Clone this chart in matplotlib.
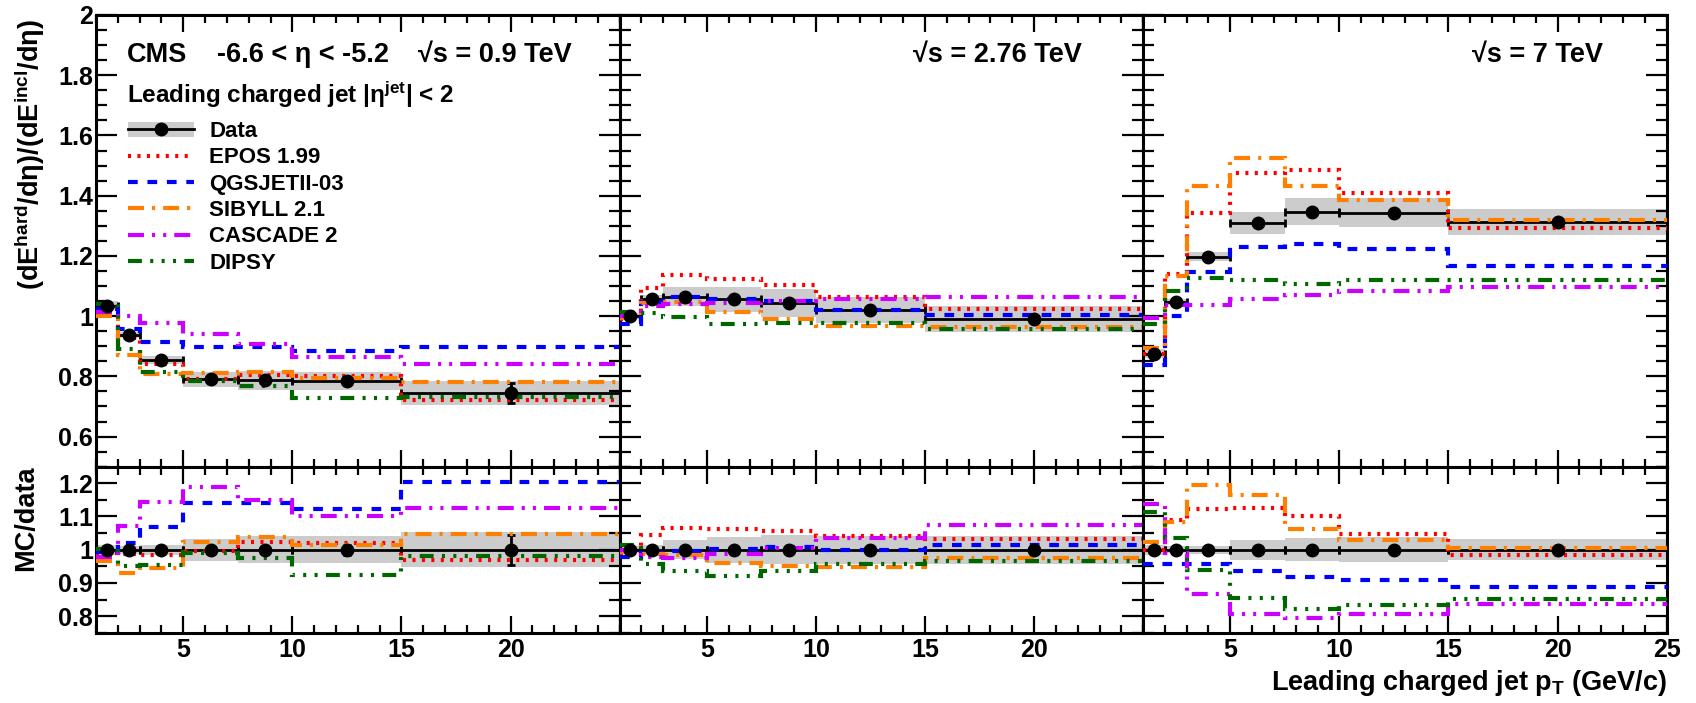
import numpy as np
import matplotlib
matplotlib.use("Agg")
from matplotlib import pyplot as plt
from matplotlib.lines import Line2D
from matplotlib.patches import Patch
from matplotlib.ticker import FixedLocator, MultipleLocator, FuncFormatter

plt.rcParams["font.family"] = ["Liberation Sans", "DejaVu Sans"]
plt.rcParams["font.weight"] = "bold"
plt.rcParams["mathtext.fontset"] = "custom"
plt.rcParams["mathtext.rm"] = "Liberation Sans:bold"
plt.rcParams["mathtext.it"] = "Liberation Sans:bold"
plt.rcParams["mathtext.bf"] = "Liberation Sans:bold"
plt.rcParams["lines.scale_dashes"] = False

# ---- binning (leading charged jet pT, GeV/c) ----
edges = [1, 2, 3, 5, 7.5, 10, 15, 25]
centers = [1.5, 2.5, 4.0, 6.25, 8.75, 12.5, 20.0]

models = ["EPOS 1.99", "QGSJETII-03", "SIBYLL 2.1", "CASCADE 2", "DIPSY"]

# ---- sqrt(s) = 0.9 TeV ----
data_09 = [1.035, 0.937, 0.853, 0.790, 0.787, 0.785, 0.745]
syst_09 = [0.015, 0.010, 0.013, 0.026, 0.031, 0.031, 0.040]
stat_09 = [0.004, 0.004, 0.004, 0.004, 0.005, 0.010, 0.033]
epos_09 = [1.025, 0.928, 0.842, 0.790, 0.803, 0.800, 0.722]
qgsjet_09 = [1.025, 0.956, 0.913, 0.899, 0.898, 0.883, 0.899]
sibyll_09 = [1.000, 0.872, 0.808, 0.810, 0.816, 0.795, 0.780]
cascade_09 = [1.015, 1.000, 0.977, 0.942, 0.906, 0.864, 0.840]
dipsy_09 = [1.040, 0.891, 0.813, 0.783, 0.768, 0.727, 0.730]
rsyst_09 = [0.015, 0.012, 0.015, 0.033, 0.040, 0.040, 0.052]
rstat_09 = [0.004, 0.004, 0.004, 0.005, 0.006, 0.015, 0.045]
r_epos_09 = [0.990, 0.988, 0.985, 0.996, 1.022, 1.020, 0.970]
r_qgsjet_09 = [0.993, 1.020, 1.068, 1.140, 1.140, 1.123, 1.205]
r_sibyll_09 = [0.966, 0.931, 0.946, 1.023, 1.037, 1.013, 1.048]
r_cascade_09 = [0.978, 1.070, 1.143, 1.190, 1.151, 1.100, 1.126]
r_dipsy_09 = [1.003, 0.951, 0.953, 0.991, 0.976, 0.925, 0.980]

# ---- sqrt(s) = 2.76 TeV ----
data_276 = [1.001, 1.057, 1.065, 1.056, 1.043, 1.021, 0.990]
syst_276 = [0.010, 0.012, 0.031, 0.041, 0.046, 0.043, 0.042]
stat_276 = [0.003, 0.003, 0.003, 0.004, 0.004, 0.005, 0.008]
epos_276 = [0.990, 1.093, 1.137, 1.124, 1.102, 1.065, 1.023]
qgsjet_276 = [0.975, 1.048, 1.062, 1.058, 1.050, 1.021, 1.004]
sibyll_276 = [0.995, 1.043, 1.048, 1.015, 0.991, 0.968, 0.965]
cascade_276 = [1.000, 1.034, 1.040, 1.045, 1.050, 1.057, 1.063]
dipsy_276 = [1.015, 1.011, 0.997, 0.975, 0.976, 0.977, 0.957]
rsyst_276 = [0.010, 0.013, 0.029, 0.039, 0.044, 0.042, 0.042]
rstat_276 = [0.003, 0.003, 0.003, 0.004, 0.004, 0.005, 0.008]
r_epos_276 = [0.990, 1.043, 1.066, 1.063, 1.056, 1.041, 1.033]
r_qgsjet_276 = [0.978, 0.990, 0.996, 1.003, 1.007, 1.000, 1.014]
r_sibyll_276 = [0.993, 0.987, 0.984, 0.961, 0.950, 0.947, 0.976]
r_cascade_276 = [0.998, 0.978, 0.976, 0.988, 1.005, 1.034, 1.073]
r_dipsy_276 = [1.013, 0.957, 0.936, 0.921, 0.936, 0.956, 0.967]

# ---- sqrt(s) = 7 TeV ----
data_7 = [0.875, 1.046, 1.198, 1.309, 1.347, 1.344, 1.312]
syst_7 = [0.015, 0.010, 0.015, 0.036, 0.046, 0.048, 0.043]
stat_7 = [0.004, 0.003, 0.003, 0.004, 0.004, 0.005, 0.007]
epos_7 = [0.875, 1.140, 1.344, 1.474, 1.486, 1.408, 1.292]
qgsjet_7 = [0.838, 1.002, 1.145, 1.228, 1.238, 1.222, 1.165]
sibyll_7 = [0.894, 1.132, 1.432, 1.524, 1.432, 1.386, 1.320]
cascade_7 = [0.993, 1.037, 1.037, 1.056, 1.071, 1.085, 1.096]
dipsy_7 = [0.974, 1.082, 1.125, 1.120, 1.107, 1.120, 1.120]
rsyst_7 = [0.015, 0.010, 0.012, 0.030, 0.035, 0.037, 0.032]
rstat_7 = [0.003, 0.003, 0.003, 0.003, 0.003, 0.004, 0.005]
r_epos_7 = [1.000, 1.090, 1.122, 1.126, 1.103, 1.047, 0.983]
r_qgsjet_7 = [0.957, 0.957, 0.956, 0.937, 0.918, 0.908, 0.887]
r_sibyll_7 = [1.023, 1.082, 1.196, 1.164, 1.063, 1.030, 1.006]
r_cascade_7 = [1.137, 0.991, 0.867, 0.806, 0.794, 0.807, 0.835]
r_dipsy_7 = [1.113, 1.036, 0.939, 0.856, 0.822, 0.833, 0.853]

panels = [
    dict(data=data_09, syst=syst_09, stat=stat_09,
         mc=[epos_09, qgsjet_09, sibyll_09, cascade_09, dipsy_09],
         rsyst=rsyst_09, rstat=rstat_09,
         rmc=[r_epos_09, r_qgsjet_09, r_sibyll_09, r_cascade_09, r_dipsy_09]),
    dict(data=data_276, syst=syst_276, stat=stat_276,
         mc=[epos_276, qgsjet_276, sibyll_276, cascade_276, dipsy_276],
         rsyst=rsyst_276, rstat=rstat_276,
         rmc=[r_epos_276, r_qgsjet_276, r_sibyll_276, r_cascade_276, r_dipsy_276]),
    dict(data=data_7, syst=syst_7, stat=stat_7,
         mc=[epos_7, qgsjet_7, sibyll_7, cascade_7, dipsy_7],
         rsyst=rsyst_7, rstat=rstat_7,
         rmc=[r_epos_7, r_qgsjet_7, r_sibyll_7, r_cascade_7, r_dipsy_7]),
]

# ROOT-like colours / line styles (dash lengths in points)
mc_colors = ["#ff0000", "#0000ff", "#ff7f00", "#cc00ff", "#006600"]
mc_dashes = [
    (0, (2.2, 4.6)),
    (0, (7.0, 7.0)),
    (0, (11.5, 5.8, 2.2, 5.8)),
    (0, (11.5, 5.8, 2.2, 5.8, 2.2, 5.8)),
    (0, (10.0, 6.0, 2.2, 6.0, 2.2, 6.0, 2.2, 6.0)),
]
MC_LW = 3.0
BAND = "#cccccc"

W, H = 1696, 703
fig = plt.figure(figsize=(W / 100, H / 100), dpi=100)

x_left = [96, 619.5, 1143]
pw = 523.7
top_y0, top_y1 = 466.7, 15
bot_y0, bot_y1 = 632.7, 466.7

edges_a = np.array(edges)
cent_a = np.array(centers)
xerr = [cent_a - edges_a[:-1], edges_a[1:] - cent_a]


def style_axes(ax, xlabels, ylabels, ymajor, yminor, fmt_last):
    ax.set_xlim(1, 25)
    ax.xaxis.set_major_locator(FixedLocator([5, 10, 15, 20, 25]))
    ax.xaxis.set_minor_locator(MultipleLocator(1))
    ax.yaxis.set_major_locator(FixedLocator(ymajor))
    ax.yaxis.set_minor_locator(MultipleLocator(yminor))
    ax.tick_params(which="both", direction="in", top=True, right=True,
                   width=1.6, labelsize=18)
    ax.tick_params(axis="x", which="major", length=12, pad=4)
    ax.tick_params(axis="x", which="minor", length=6)
    ax.tick_params(axis="y", which="major", length=15, pad=2)
    ax.tick_params(axis="y", which="minor", length=8)
    for s in ax.spines.values():
        s.set_linewidth(2.2)
    if xlabels:
        ax.xaxis.set_major_formatter(FuncFormatter(
            lambda v, p: "" if (v == 25 and not fmt_last) else f"{v:g}"))
    else:
        ax.set_xticklabels([])
    if ylabels:
        ax.yaxis.set_major_formatter(FuncFormatter(lambda v, p: f"{v:g}"))
    else:
        ax.set_yticklabels([])


def draw_data(ax, vals, syst, stat):
    vals = np.array(vals)
    syst = np.array(syst)
    ax.bar(edges_a[:-1], 2 * syst, width=np.diff(edges_a), bottom=vals - syst,
           align="edge", color=BAND, lw=0, zorder=1)
    ax.errorbar(cent_a, vals, xerr=xerr, yerr=stat, fmt="none", ecolor="k",
                elinewidth=2, capsize=3, capthick=2, zorder=3)
    ax.plot(cent_a, vals, "o", color="k", ms=9, zorder=6)


for i, p in enumerate(panels):
    x0 = x_left[i] / W
    axt = fig.add_axes([x0, 1 - top_y0 / H, pw / W, (top_y0 - top_y1) / H])
    axb = fig.add_axes([x0, 1 - bot_y0 / H, pw / W, (bot_y0 - bot_y1) / H])

    draw_data(axt, p["data"], p["syst"], p["stat"])
    for vals, c, ls in zip(p["mc"], mc_colors, mc_dashes):
        axt.stairs(vals, edges, baseline=None, color=c, lw=MC_LW, linestyle=ls, zorder=4)
    axt.set_ylim(0.5, 2.0)
    style_axes(axt, False, i == 0, [0.6, 0.8, 1.0, 1.2, 1.4, 1.6, 1.8, 2.0], 0.05, False)

    draw_data(axb, [1.0] * 7, p["rsyst"], p["rstat"])
    for vals, c, ls in zip(p["rmc"], mc_colors, mc_dashes):
        axb.stairs(vals, edges, baseline=None, color=c, lw=MC_LW, linestyle=ls, zorder=4)
    axb.set_ylim(0.75, 1.25)
    style_axes(axb, True, i == 0, [0.8, 0.9, 1.0, 1.1, 1.2], 0.05, i == 2)

    if i == 0:
        fs = 19.5
        axt.text(0.059, 0.9115, "CMS", transform=axt.transAxes, fontsize=fs,
                 va="center", ha="left")
        axt.text(0.231, 0.9115, "-6.6 < η < -5.2", transform=axt.transAxes,
                 fontsize=fs, va="center", ha="left")
        axt.text(0.615, 0.9115, "√s = 0.9 TeV", transform=axt.transAxes,
                 fontsize=fs, va="center", ha="left")
        axt.text(0.059, 0.823, "Leading charged jet |η$^{jet}$| < 2",
                 transform=axt.transAxes, fontsize=17.5, va="center", ha="left")
        handles = [(Patch(facecolor=BAND, lw=0),
                    Line2D([], [], color="k", lw=2, marker="o", ms=9))]
        for c, ls in zip(mc_colors, mc_dashes):
            handles.append(Line2D([], [], color=c, lw=MC_LW, linestyle=ls))
        axt.legend(handles, ["Data"] + models, loc="upper left",
                   bbox_to_anchor=(0.061, 0.765), frameon=False, fontsize=16,
                   borderpad=0, borderaxespad=0, handlelength=2.95,
                   handletextpad=0.7, labelspacing=0.24)
    elif i == 1:
        axt.text(0.883, 0.9115, "√s = 2.76 TeV", transform=axt.transAxes,
                 fontsize=19.5, va="center", ha="right")
    else:
        axt.text(0.878, 0.9115, "√s = 7 TeV", transform=axt.transAxes,
                 fontsize=19.5, va="center", ha="right")

fig.text(30 / W, 1 - 19 / H, "(dE$^{hard}$/dη)/(dE$^{incl}$/dη)", rotation=90,
         va="top", ha="center", fontsize=19.5)
fig.text(26 / W, 1 - 518 / H, "MC/data", rotation=90, va="center", ha="center",
         fontsize=19.5)
fig.text(1667 / W, 1 - 683 / H, "Leading charged jet p$_{T}$ (GeV/c)",
         ha="right", va="center", fontsize=19.5)

fig.savefig("out.png", dpi=100)
